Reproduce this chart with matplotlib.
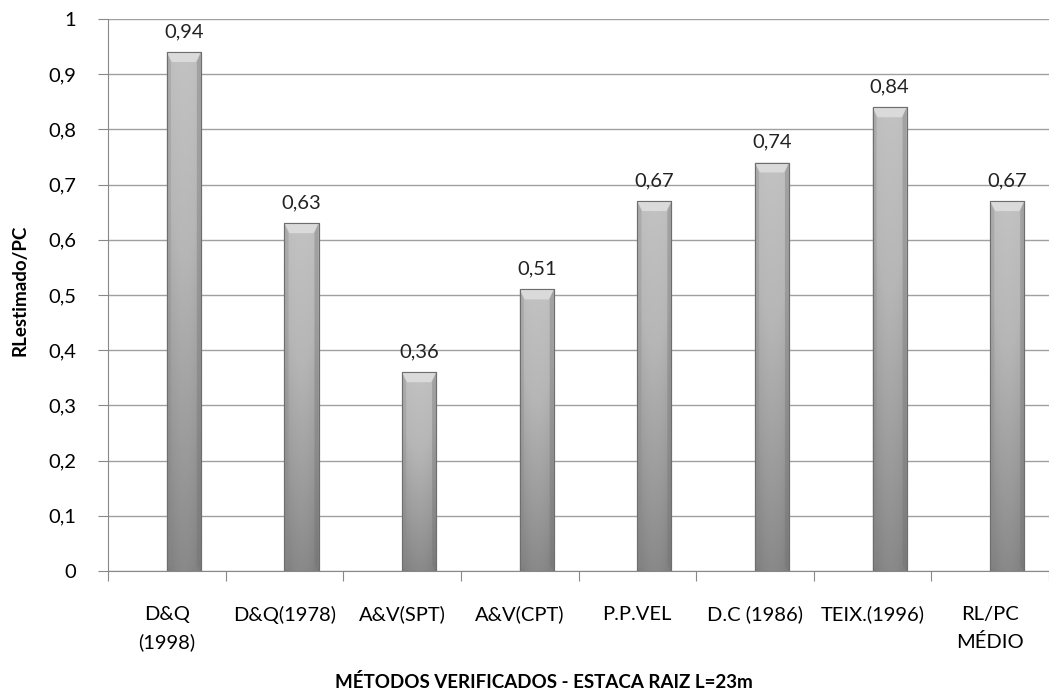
import matplotlib
matplotlib.use("Agg")
import matplotlib.pyplot as plt
import numpy as np
from matplotlib.colors import LinearSegmentedColormap

categories = ["D&Q\n(1998)", "D&Q(1978)", "A&V(SPT)", "A&V(CPT)", "P.P.VEL",
              "D.C (1986)", "TEIX.(1996)", "RL/PC\nMÉDIO"]
values = [0.94, 0.63, 0.36, 0.51, 0.67, 0.74, 0.84, 0.67]
value_labels = ["0,94", "0,63", "0,36", "0,51", "0,67", "0,74", "0,84", "0,67"]
yticks = [0, 0.1, 0.2, 0.3, 0.4, 0.5, 0.6, 0.7, 0.8, 0.9, 1.0]
ytick_labels = ["0", "0,1", "0,2", "0,3", "0,4", "0,5", "0,6", "0,7", "0,8", "0,9", "1"]

plt.rcParams['font.family'] = ['Lato', 'DejaVu Sans']

W, H = 1049, 698
fig = plt.figure(figsize=(W/100, H/100), dpi=100)
ax = fig.add_axes([108/W, (H-571)/H, 1 - 108/W, (571-19)/H])

x = np.arange(len(categories))
offset = 0.145
bars = ax.bar(x + offset, values, width=0.29, color="#a8a8a8", edgecolor="#707070",
              linewidth=0.8, zorder=3)

cmap = LinearSegmentedColormap.from_list("g", ["#7c7c7c", "#9a9a9a", "#b6b6b6", "#c2c2c2"])
for b in bars:
    x0, y0 = b.get_x(), b.get_y()
    w, h = b.get_width(), b.get_height()
    vy = np.linspace(0, 1, 100)[:, None]
    hx = np.linspace(-1, 1, 40)[None, :]
    img = vy * 0.85 + 0.15 * (1 - hx**2)
    im = ax.imshow(img, extent=(x0, x0 + w, y0, y0 + h), origin="lower",
                   cmap=cmap, vmin=0, vmax=1, aspect="auto", zorder=3.5)
    im.set_clip_path(b)
    ax.fill([x0, x0 + w, x0 + w*0.85, x0 + w*0.15],
            [y0 + h, y0 + h, y0 + h - 0.018, y0 + h - 0.018],
            color="#dadada", zorder=3.6, lw=0)
    ax.fill([x0, x0 + w*0.12, x0 + w*0.12, x0],
            [y0, y0 + 0.01, y0 + h - 0.018, y0 + h],
            color="#8a8a8a", alpha=0.35, zorder=3.6, lw=0)
    ax.fill([x0 + w, x0 + w*0.88, x0 + w*0.88, x0 + w],
            [y0, y0 + 0.01, y0 + h - 0.018, y0 + h],
            color="#707070", alpha=0.35, zorder=3.6, lw=0)
    ax.plot([x0, x0 + w, x0 + w, x0, x0], [y0, y0, y0 + h, y0 + h, y0],
            color="#6e6e6e", lw=0.8, zorder=3.7)

for xi, v, lab in zip(x + offset, values, value_labels):
    ax.text(xi, v + 0.022, lab, ha="center", va="bottom", fontsize=14.5, color="#222222")

ax.set_xlim(-0.5, (W - 108) / 119 - 0.5)
ax.set_ylim(0, 1)
ax.set_yticks(yticks)
ax.set_yticklabels(ytick_labels, fontsize=14.5)
ax.yaxis.grid(True, color="#a0a0a0", lw=1, zorder=0)
ax.set_axisbelow(True)

ax.set_xticks(np.arange(len(categories) + 1) - 0.5, minor=False)
ax.set_xticklabels([])
ax.set_xticks(x, minor=True)
ax.set_xticklabels(categories, minor=True, fontsize=14.5)
ax.tick_params(axis="x", which="minor", length=0, pad=25)
ax.tick_params(axis="x", which="major", length=7, color="#888888", direction="out")
ax.tick_params(axis="y", length=7, color="#888888", direction="out", pad=16)
for t in ax.get_xticklabels(minor=True):
    t.set_linespacing(1.7)

for s in ["top", "right"]:
    ax.spines[s].set_visible(False)
ax.spines["left"].set_color("#888888")
ax.spines["bottom"].set_color("#888888")

fig.text(20 / W, 1 - 290 / H, "RLestimado/PC", rotation=90, ha="center", va="center",
         fontsize=13.5, fontweight="bold")
fig.text(544 / W, 1 - 682 / H, "MÉTODOS VERIFICADOS - ESTACA RAIZ L=23m",
         ha="center", va="center", fontsize=13.5, fontweight="bold")

fig.savefig("out.png", dpi=100)
